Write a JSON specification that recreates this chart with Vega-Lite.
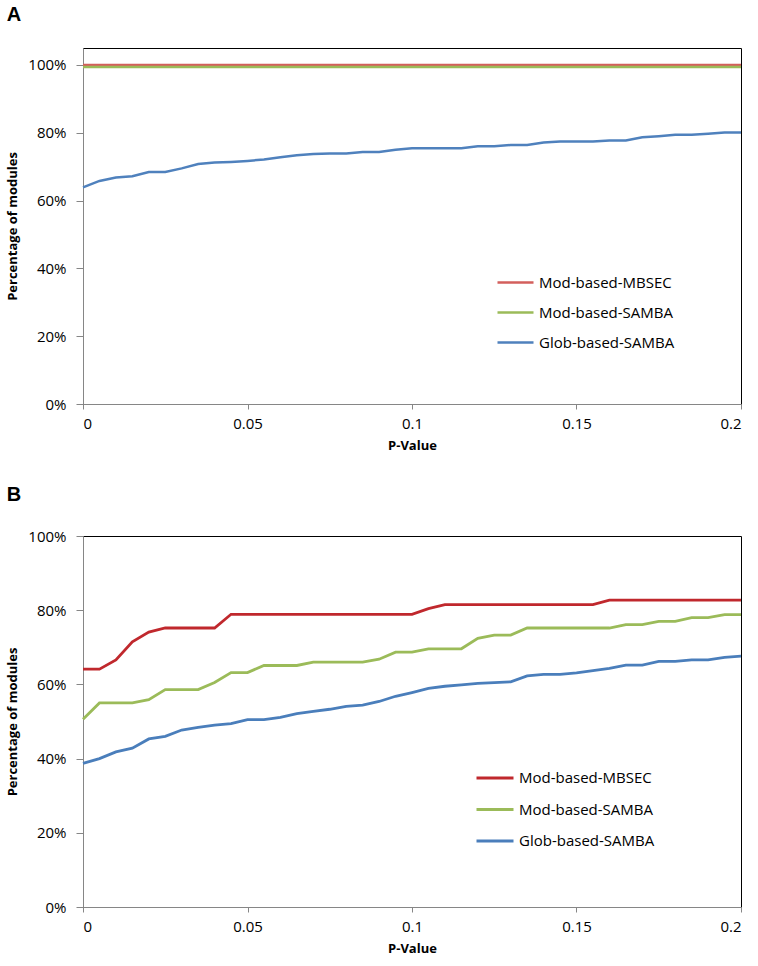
{
  "$schema": "https://vega.github.io/schema/vega-lite/v6.json",
  "background": "white",
  "padding": {"left": 6, "top": 4, "right": 6, "bottom": 5},
  "spacing": 31,
  "resolve": {"scale": {"color": "independent"}, "legend": {"color": "independent"}},
  "config": {
    "view": {"stroke": "black", "strokeWidth": 1},
    "axis": {
      "grid": false,
      "domainColor": "#868686",
      "tickColor": "#868686",
      "labelFont": "Open Sans",
      "labelFontSize": 15,
      "labelColor": "black",
      "titleFont": "Open Sans",
      "titleFontSize": 13,
      "titleFontWeight": "bold",
      "titleColor": "black"
    },
    "axisX": {"tickSize": 5, "labelPadding": 7, "titlePadding": 8},
    "axisY": {"tickSize": 7, "labelPadding": 10, "titlePadding": 8},
    "legend": {
      "labelFont": "Open Sans",
      "labelFontSize": 15,
      "labelColor": "black"
    }
  },
  "datasets": {
    "A": [
      {"p": 0, "Mod-based-MBSEC": 1.0, "Mod-based-SAMBA": 0.994, "Glob-based-SAMBA": 0.639},
      {"p": 0.005, "Mod-based-MBSEC": 1.0, "Mod-based-SAMBA": 0.994, "Glob-based-SAMBA": 0.658},
      {"p": 0.01, "Mod-based-MBSEC": 1.0, "Mod-based-SAMBA": 0.994, "Glob-based-SAMBA": 0.668},
      {"p": 0.015, "Mod-based-MBSEC": 1.0, "Mod-based-SAMBA": 0.994, "Glob-based-SAMBA": 0.672},
      {"p": 0.02, "Mod-based-MBSEC": 1.0, "Mod-based-SAMBA": 0.994, "Glob-based-SAMBA": 0.684},
      {"p": 0.025, "Mod-based-MBSEC": 1.0, "Mod-based-SAMBA": 0.994, "Glob-based-SAMBA": 0.684},
      {"p": 0.03, "Mod-based-MBSEC": 1.0, "Mod-based-SAMBA": 0.994, "Glob-based-SAMBA": 0.695},
      {"p": 0.035, "Mod-based-MBSEC": 1.0, "Mod-based-SAMBA": 0.994, "Glob-based-SAMBA": 0.708},
      {"p": 0.04, "Mod-based-MBSEC": 1.0, "Mod-based-SAMBA": 0.994, "Glob-based-SAMBA": 0.712},
      {"p": 0.045, "Mod-based-MBSEC": 1.0, "Mod-based-SAMBA": 0.994, "Glob-based-SAMBA": 0.714},
      {"p": 0.05, "Mod-based-MBSEC": 1.0, "Mod-based-SAMBA": 0.994, "Glob-based-SAMBA": 0.717},
      {"p": 0.055, "Mod-based-MBSEC": 1.0, "Mod-based-SAMBA": 0.994, "Glob-based-SAMBA": 0.721},
      {"p": 0.06, "Mod-based-MBSEC": 1.0, "Mod-based-SAMBA": 0.994, "Glob-based-SAMBA": 0.728},
      {"p": 0.065, "Mod-based-MBSEC": 1.0, "Mod-based-SAMBA": 0.994, "Glob-based-SAMBA": 0.734},
      {"p": 0.07, "Mod-based-MBSEC": 1.0, "Mod-based-SAMBA": 0.994, "Glob-based-SAMBA": 0.737},
      {"p": 0.075, "Mod-based-MBSEC": 1.0, "Mod-based-SAMBA": 0.994, "Glob-based-SAMBA": 0.739},
      {"p": 0.08, "Mod-based-MBSEC": 1.0, "Mod-based-SAMBA": 0.994, "Glob-based-SAMBA": 0.739},
      {"p": 0.085, "Mod-based-MBSEC": 1.0, "Mod-based-SAMBA": 0.994, "Glob-based-SAMBA": 0.743},
      {"p": 0.09, "Mod-based-MBSEC": 1.0, "Mod-based-SAMBA": 0.994, "Glob-based-SAMBA": 0.743},
      {"p": 0.095, "Mod-based-MBSEC": 1.0, "Mod-based-SAMBA": 0.994, "Glob-based-SAMBA": 0.75},
      {"p": 0.1, "Mod-based-MBSEC": 1.0, "Mod-based-SAMBA": 0.994, "Glob-based-SAMBA": 0.754},
      {"p": 0.105, "Mod-based-MBSEC": 1.0, "Mod-based-SAMBA": 0.994, "Glob-based-SAMBA": 0.754},
      {"p": 0.11, "Mod-based-MBSEC": 1.0, "Mod-based-SAMBA": 0.994, "Glob-based-SAMBA": 0.754},
      {"p": 0.115, "Mod-based-MBSEC": 1.0, "Mod-based-SAMBA": 0.994, "Glob-based-SAMBA": 0.754},
      {"p": 0.12, "Mod-based-MBSEC": 1.0, "Mod-based-SAMBA": 0.994, "Glob-based-SAMBA": 0.76},
      {"p": 0.125, "Mod-based-MBSEC": 1.0, "Mod-based-SAMBA": 0.994, "Glob-based-SAMBA": 0.76},
      {"p": 0.13, "Mod-based-MBSEC": 1.0, "Mod-based-SAMBA": 0.994, "Glob-based-SAMBA": 0.764},
      {"p": 0.135, "Mod-based-MBSEC": 1.0, "Mod-based-SAMBA": 0.994, "Glob-based-SAMBA": 0.764},
      {"p": 0.14, "Mod-based-MBSEC": 1.0, "Mod-based-SAMBA": 0.994, "Glob-based-SAMBA": 0.771},
      {"p": 0.145, "Mod-based-MBSEC": 1.0, "Mod-based-SAMBA": 0.994, "Glob-based-SAMBA": 0.774},
      {"p": 0.15, "Mod-based-MBSEC": 1.0, "Mod-based-SAMBA": 0.994, "Glob-based-SAMBA": 0.774},
      {"p": 0.155, "Mod-based-MBSEC": 1.0, "Mod-based-SAMBA": 0.994, "Glob-based-SAMBA": 0.774},
      {"p": 0.16, "Mod-based-MBSEC": 1.0, "Mod-based-SAMBA": 0.994, "Glob-based-SAMBA": 0.777},
      {"p": 0.165, "Mod-based-MBSEC": 1.0, "Mod-based-SAMBA": 0.994, "Glob-based-SAMBA": 0.777},
      {"p": 0.17, "Mod-based-MBSEC": 1.0, "Mod-based-SAMBA": 0.994, "Glob-based-SAMBA": 0.787},
      {"p": 0.175, "Mod-based-MBSEC": 1.0, "Mod-based-SAMBA": 0.994, "Glob-based-SAMBA": 0.79},
      {"p": 0.18, "Mod-based-MBSEC": 1.0, "Mod-based-SAMBA": 0.994, "Glob-based-SAMBA": 0.794},
      {"p": 0.185, "Mod-based-MBSEC": 1.0, "Mod-based-SAMBA": 0.994, "Glob-based-SAMBA": 0.794},
      {"p": 0.19, "Mod-based-MBSEC": 1.0, "Mod-based-SAMBA": 0.994, "Glob-based-SAMBA": 0.797},
      {"p": 0.195, "Mod-based-MBSEC": 1.0, "Mod-based-SAMBA": 0.994, "Glob-based-SAMBA": 0.801},
      {"p": 0.2, "Mod-based-MBSEC": 1.0, "Mod-based-SAMBA": 0.994, "Glob-based-SAMBA": 0.801}
    ],
    "B": [
      {"p": 0, "Mod-based-MBSEC": 0.641, "Mod-based-SAMBA": 0.506, "Glob-based-SAMBA": 0.387},
      {"p": 0.005, "Mod-based-MBSEC": 0.641, "Mod-based-SAMBA": 0.55, "Glob-based-SAMBA": 0.4},
      {"p": 0.01, "Mod-based-MBSEC": 0.666, "Mod-based-SAMBA": 0.55, "Glob-based-SAMBA": 0.418},
      {"p": 0.015, "Mod-based-MBSEC": 0.715, "Mod-based-SAMBA": 0.55, "Glob-based-SAMBA": 0.428},
      {"p": 0.02, "Mod-based-MBSEC": 0.741, "Mod-based-SAMBA": 0.559, "Glob-based-SAMBA": 0.453},
      {"p": 0.025, "Mod-based-MBSEC": 0.752, "Mod-based-SAMBA": 0.586, "Glob-based-SAMBA": 0.46},
      {"p": 0.03, "Mod-based-MBSEC": 0.752, "Mod-based-SAMBA": 0.586, "Glob-based-SAMBA": 0.477},
      {"p": 0.035, "Mod-based-MBSEC": 0.752, "Mod-based-SAMBA": 0.586, "Glob-based-SAMBA": 0.484},
      {"p": 0.04, "Mod-based-MBSEC": 0.752, "Mod-based-SAMBA": 0.605, "Glob-based-SAMBA": 0.49},
      {"p": 0.045, "Mod-based-MBSEC": 0.789, "Mod-based-SAMBA": 0.632, "Glob-based-SAMBA": 0.494},
      {"p": 0.05, "Mod-based-MBSEC": 0.789, "Mod-based-SAMBA": 0.632, "Glob-based-SAMBA": 0.505},
      {"p": 0.055, "Mod-based-MBSEC": 0.789, "Mod-based-SAMBA": 0.651, "Glob-based-SAMBA": 0.505},
      {"p": 0.06, "Mod-based-MBSEC": 0.789, "Mod-based-SAMBA": 0.651, "Glob-based-SAMBA": 0.511},
      {"p": 0.065, "Mod-based-MBSEC": 0.789, "Mod-based-SAMBA": 0.651, "Glob-based-SAMBA": 0.521},
      {"p": 0.07, "Mod-based-MBSEC": 0.789, "Mod-based-SAMBA": 0.66, "Glob-based-SAMBA": 0.527},
      {"p": 0.075, "Mod-based-MBSEC": 0.789, "Mod-based-SAMBA": 0.66, "Glob-based-SAMBA": 0.533},
      {"p": 0.08, "Mod-based-MBSEC": 0.789, "Mod-based-SAMBA": 0.66, "Glob-based-SAMBA": 0.541},
      {"p": 0.085, "Mod-based-MBSEC": 0.789, "Mod-based-SAMBA": 0.66, "Glob-based-SAMBA": 0.544},
      {"p": 0.09, "Mod-based-MBSEC": 0.789, "Mod-based-SAMBA": 0.668, "Glob-based-SAMBA": 0.554},
      {"p": 0.095, "Mod-based-MBSEC": 0.789, "Mod-based-SAMBA": 0.687, "Glob-based-SAMBA": 0.568},
      {"p": 0.1, "Mod-based-MBSEC": 0.789, "Mod-based-SAMBA": 0.687, "Glob-based-SAMBA": 0.578},
      {"p": 0.105, "Mod-based-MBSEC": 0.804, "Mod-based-SAMBA": 0.696, "Glob-based-SAMBA": 0.589},
      {"p": 0.11, "Mod-based-MBSEC": 0.815, "Mod-based-SAMBA": 0.696, "Glob-based-SAMBA": 0.595},
      {"p": 0.115, "Mod-based-MBSEC": 0.815, "Mod-based-SAMBA": 0.696, "Glob-based-SAMBA": 0.599},
      {"p": 0.12, "Mod-based-MBSEC": 0.815, "Mod-based-SAMBA": 0.724, "Glob-based-SAMBA": 0.603},
      {"p": 0.125, "Mod-based-MBSEC": 0.815, "Mod-based-SAMBA": 0.733, "Glob-based-SAMBA": 0.605},
      {"p": 0.13, "Mod-based-MBSEC": 0.815, "Mod-based-SAMBA": 0.733, "Glob-based-SAMBA": 0.607},
      {"p": 0.135, "Mod-based-MBSEC": 0.815, "Mod-based-SAMBA": 0.752, "Glob-based-SAMBA": 0.623},
      {"p": 0.14, "Mod-based-MBSEC": 0.815, "Mod-based-SAMBA": 0.752, "Glob-based-SAMBA": 0.627},
      {"p": 0.145, "Mod-based-MBSEC": 0.815, "Mod-based-SAMBA": 0.752, "Glob-based-SAMBA": 0.627},
      {"p": 0.15, "Mod-based-MBSEC": 0.815, "Mod-based-SAMBA": 0.752, "Glob-based-SAMBA": 0.631},
      {"p": 0.155, "Mod-based-MBSEC": 0.815, "Mod-based-SAMBA": 0.752, "Glob-based-SAMBA": 0.637},
      {"p": 0.16, "Mod-based-MBSEC": 0.827, "Mod-based-SAMBA": 0.752, "Glob-based-SAMBA": 0.643},
      {"p": 0.165, "Mod-based-MBSEC": 0.827, "Mod-based-SAMBA": 0.761, "Glob-based-SAMBA": 0.652},
      {"p": 0.17, "Mod-based-MBSEC": 0.827, "Mod-based-SAMBA": 0.761, "Glob-based-SAMBA": 0.652},
      {"p": 0.175, "Mod-based-MBSEC": 0.827, "Mod-based-SAMBA": 0.77, "Glob-based-SAMBA": 0.662},
      {"p": 0.18, "Mod-based-MBSEC": 0.827, "Mod-based-SAMBA": 0.77, "Glob-based-SAMBA": 0.662},
      {"p": 0.185, "Mod-based-MBSEC": 0.827, "Mod-based-SAMBA": 0.78, "Glob-based-SAMBA": 0.666},
      {"p": 0.19, "Mod-based-MBSEC": 0.827, "Mod-based-SAMBA": 0.78, "Glob-based-SAMBA": 0.666},
      {"p": 0.195, "Mod-based-MBSEC": 0.827, "Mod-based-SAMBA": 0.788, "Glob-based-SAMBA": 0.673},
      {"p": 0.2, "Mod-based-MBSEC": 0.827, "Mod-based-SAMBA": 0.788, "Glob-based-SAMBA": 0.676}
    ]
  },
  "vconcat": [
    {
      "title": {"text": "A", "anchor": "start", "frame": "bounds", "font": "Liberation Sans", "fontSize": 20, "fontWeight": "bold", "color": "black", "offset": 23},
      "width": 658,
      "height": 356,
      "data": {"name": "A"},
      "transform": [{"fold": ["Mod-based-MBSEC", "Mod-based-SAMBA", "Glob-based-SAMBA"], "as": ["series", "pct"]}],
      "mark": {"type": "line", "strokeWidth": 2.5},
      "encoding": {
        "x": {"field": "p", "type": "quantitative", "scale": {"domain": [0, 0.2], "nice": false},
              "axis": {"values": [0, 0.05, 0.1, 0.15, 0.2], "format": "~g", "title": "P-Value"}},
        "y": {"field": "pct", "type": "quantitative", "scale": {"domain": [0, 1.05], "nice": false},
              "axis": {"values": [0, 0.2, 0.4, 0.6, 0.8, 1], "format": ".0%", "title": "Percentage of modules"}},
        "color": {"field": "series", "type": "nominal",
                  "scale": {"domain": ["Mod-based-MBSEC", "Mod-based-SAMBA", "Glob-based-SAMBA"], "range": ["#D35F5C", "#9BBB59", "#4F81BD"]},
                  "legend": {"title": null, "orient": "none", "legendX": 413, "legendY": 215, "symbolType": "stroke", "symbolSize": 1296, "symbolStrokeWidth": 2.5, "labelOffset": 4, "rowPadding": 2}}
      }
    },
    {
      "title": {"text": "B", "anchor": "start", "frame": "bounds", "font": "Liberation Sans", "fontSize": 20, "fontWeight": "bold", "color": "black", "offset": 24},
      "width": 658,
      "height": 371,
      "data": {"name": "B"},
      "transform": [{"fold": ["Mod-based-MBSEC", "Mod-based-SAMBA", "Glob-based-SAMBA"], "as": ["series", "pct"]}],
      "mark": {"type": "line", "strokeWidth": 2.8},
      "encoding": {
        "x": {"field": "p", "type": "quantitative", "scale": {"domain": [0, 0.2], "nice": false},
              "axis": {"values": [0, 0.05, 0.1, 0.15, 0.2], "format": "~g", "title": "P-Value"}},
        "y": {"field": "pct", "type": "quantitative", "scale": {"domain": [0, 1], "nice": false},
              "axis": {"values": [0, 0.2, 0.4, 0.6, 0.8, 1], "format": ".0%", "title": "Percentage of modules"}},
        "color": {"field": "series", "type": "nominal",
                  "scale": {"domain": ["Mod-based-MBSEC", "Mod-based-SAMBA", "Glob-based-SAMBA"], "range": ["#C0282D", "#9BBB59", "#4A7EBB"]},
                  "legend": {"title": null, "orient": "none", "legendX": 392, "legendY": 222, "symbolType": "stroke", "symbolSize": 1369, "symbolStrokeWidth": 3, "labelOffset": 4, "rowPadding": 3.5}}
      }
    }
  ]
}
